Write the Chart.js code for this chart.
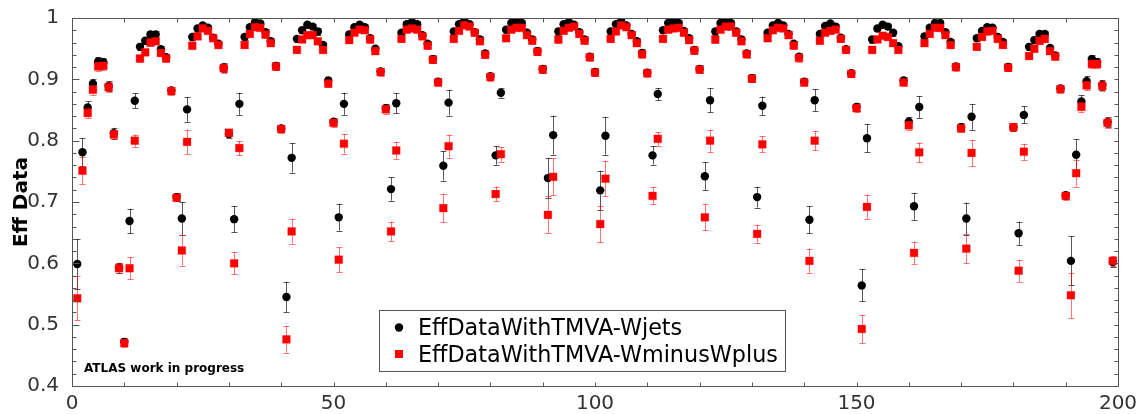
<!DOCTYPE html>
<html>
<head>
<meta charset="utf-8">
<script src="https://cdn.jsdelivr.net/npm/chart.js@4.4.0/dist/chart.umd.min.js"></script>
<style>
  html, body { margin: 0; padding: 0; background: #fff; }
  #wrap { width: 1143px; height: 414px; }
</style>
</head>
<body>
<div id="wrap"><canvas id="eff-chart" width="1143" height="414"></canvas></div>
<script>
// bin index of the first point (points sit at x = 1 ... 199)
const firstBin = 1;

// EffDataWithTMVA-Wjets (black circles)
const effWjets = [
  0.599, 0.781, 0.854, 0.893, 0.929, 0.928, 0.889, 0.812, 0.593, 0.472,
  0.669, 0.865, 0.953, 0.963, 0.973, 0.973, 0.949, 0.936, 0.882, 0.708,
  0.673, 0.851, 0.969, 0.983, 0.988, 0.984, 0.968, 0.958, 0.919, 0.811,
  0.672, 0.860, 0.969, 0.985, 0.993, 0.991, 0.977, 0.962, 0.922, 0.820,
  0.545, 0.772, 0.966, 0.980, 0.989, 0.986, 0.978, 0.956, 0.898, 0.831,
  0.675, 0.860, 0.973, 0.985, 0.989, 0.985, 0.967, 0.950, 0.913, 0.853,
  0.721, 0.861, 0.976, 0.990, 0.993, 0.990, 0.972, 0.958, 0.933, 0.896,
  0.759, 0.862, 0.978, 0.990, 0.996, 0.990, 0.977, 0.965, 0.942, 0.905,
  0.776, 0.878, 0.981, 0.992, 0.995, 0.992, 0.976, 0.965, 0.946, 0.917,
  0.739, 0.809, 0.978, 0.990, 0.993, 0.989, 0.977, 0.965, 0.937, 0.912,
  0.719, 0.808, 0.978, 0.990, 0.995, 0.988, 0.974, 0.962, 0.943, 0.911,
  0.776, 0.876, 0.980, 0.992, 0.995, 0.992, 0.979, 0.967, 0.948, 0.917,
  0.742, 0.866, 0.978, 0.992, 0.996, 0.992, 0.978, 0.965, 0.942, 0.902,
  0.708, 0.857, 0.976, 0.988, 0.992, 0.988, 0.974, 0.958, 0.937, 0.896,
  0.671, 0.866, 0.974, 0.987, 0.991, 0.986, 0.968, 0.949, 0.910, 0.855,
  0.564, 0.804, 0.965, 0.983, 0.989, 0.986, 0.976, 0.954, 0.898, 0.831,
  0.693, 0.855, 0.970, 0.984, 0.992, 0.992, 0.977, 0.961, 0.921, 0.822,
  0.673, 0.839, 0.967, 0.979, 0.985, 0.984, 0.969, 0.961, 0.920, 0.822,
  0.649, 0.842, 0.953, 0.964, 0.974, 0.974, 0.951, 0.939, 0.885, 0.711,
  0.604, 0.777, 0.864, 0.897, 0.933, 0.928, 0.891, 0.830, 0.602
];
const errWjets = [
  0.041, 0.023, 0.010, 0.008, 0.007, 0.007, 0.008, 0.009, 0.008, 0.006,
  0.020, 0.012, 0.005, 0.005, 0.005, 0.005, 0.005, 0.005, 0.006, 0.006,
  0.027, 0.020, 0.005, 0.004, 0.004, 0.004, 0.005, 0.005, 0.007, 0.006,
  0.021, 0.018, 0.005, 0.004, 0.004, 0.004, 0.005, 0.005, 0.006, 0.006,
  0.025, 0.024, 0.005, 0.004, 0.004, 0.004, 0.005, 0.005, 0.006, 0.006,
  0.022, 0.018, 0.005, 0.004, 0.004, 0.004, 0.005, 0.005, 0.006, 0.007,
  0.019, 0.016, 0.005, 0.004, 0.004, 0.004, 0.005, 0.005, 0.006, 0.006,
  0.024, 0.021, 0.005, 0.004, 0.004, 0.004, 0.005, 0.005, 0.006, 0.006,
  0.015, 0.008, 0.005, 0.004, 0.004, 0.004, 0.005, 0.005, 0.006, 0.006,
  0.033, 0.032, 0.005, 0.004, 0.004, 0.004, 0.005, 0.005, 0.006, 0.006,
  0.032, 0.031, 0.005, 0.004, 0.004, 0.004, 0.005, 0.005, 0.006, 0.006,
  0.015, 0.010, 0.005, 0.004, 0.004, 0.004, 0.005, 0.005, 0.006, 0.006,
  0.023, 0.020, 0.005, 0.004, 0.004, 0.004, 0.005, 0.005, 0.006, 0.006,
  0.017, 0.015, 0.005, 0.004, 0.004, 0.004, 0.005, 0.005, 0.006, 0.006,
  0.022, 0.018, 0.005, 0.004, 0.004, 0.004, 0.005, 0.005, 0.006, 0.007,
  0.026, 0.023, 0.005, 0.004, 0.004, 0.004, 0.005, 0.005, 0.006, 0.007,
  0.022, 0.018, 0.005, 0.004, 0.004, 0.004, 0.005, 0.005, 0.006, 0.006,
  0.026, 0.021, 0.005, 0.004, 0.004, 0.004, 0.005, 0.005, 0.006, 0.006,
  0.019, 0.014, 0.005, 0.005, 0.005, 0.005, 0.005, 0.005, 0.006, 0.006,
  0.040, 0.025, 0.010, 0.008, 0.007, 0.007, 0.008, 0.008, 0.008
];

// EffDataWithTMVA-WminusWplus (red squares)
const effWminusWplus = [
  0.543, 0.751, 0.845, 0.883, 0.921, 0.922, 0.887, 0.810, 0.592, 0.470,
  0.592, 0.800, 0.934, 0.944, 0.960, 0.962, 0.943, 0.934, 0.881, 0.707,
  0.621, 0.798, 0.955, 0.970, 0.983, 0.979, 0.967, 0.956, 0.918, 0.813,
  0.600, 0.788, 0.956, 0.974, 0.985, 0.984, 0.973, 0.959, 0.921, 0.819,
  0.476, 0.652, 0.948, 0.965, 0.972, 0.972, 0.962, 0.948, 0.893, 0.829,
  0.606, 0.795, 0.964, 0.976, 0.981, 0.980, 0.965, 0.946, 0.912, 0.851,
  0.652, 0.784, 0.966, 0.981, 0.983, 0.981, 0.970, 0.955, 0.932, 0.895,
  0.690, 0.791, 0.966, 0.979, 0.988, 0.986, 0.976, 0.962, 0.940, 0.904,
  0.713, 0.778, 0.967, 0.981, 0.984, 0.984, 0.972, 0.963, 0.945, 0.916,
  0.679, 0.741, 0.965, 0.979, 0.984, 0.986, 0.974, 0.963, 0.936, 0.911,
  0.664, 0.738, 0.966, 0.978, 0.988, 0.985, 0.972, 0.959, 0.941, 0.910,
  0.710, 0.803, 0.966, 0.981, 0.983, 0.984, 0.976, 0.964, 0.947, 0.916,
  0.675, 0.800, 0.965, 0.981, 0.986, 0.986, 0.976, 0.962, 0.941, 0.901,
  0.648, 0.794, 0.967, 0.980, 0.984, 0.983, 0.972, 0.955, 0.935, 0.895,
  0.604, 0.800, 0.963, 0.976, 0.979, 0.981, 0.966, 0.948, 0.909, 0.853,
  0.493, 0.692, 0.948, 0.965, 0.971, 0.969, 0.959, 0.948, 0.895, 0.825,
  0.617, 0.781, 0.959, 0.974, 0.984, 0.984, 0.972, 0.956, 0.920, 0.820,
  0.624, 0.780, 0.953, 0.969, 0.978, 0.979, 0.966, 0.956, 0.919, 0.822,
  0.588, 0.782, 0.938, 0.950, 0.963, 0.966, 0.946, 0.937, 0.884, 0.710,
  0.548, 0.747, 0.855, 0.890, 0.925, 0.925, 0.889, 0.829, 0.604
];
const errWminusWplus = [
  0.036, 0.022, 0.008, 0.008, 0.007, 0.007, 0.008, 0.008, 0.008, 0.006,
  0.018, 0.010, 0.005, 0.005, 0.005, 0.005, 0.005, 0.005, 0.006, 0.006,
  0.025, 0.020, 0.005, 0.004, 0.004, 0.004, 0.005, 0.005, 0.007, 0.006,
  0.018, 0.012, 0.005, 0.004, 0.004, 0.004, 0.005, 0.005, 0.006, 0.006,
  0.022, 0.020, 0.005, 0.004, 0.004, 0.004, 0.005, 0.005, 0.006, 0.006,
  0.020, 0.016, 0.005, 0.004, 0.004, 0.004, 0.005, 0.005, 0.006, 0.007,
  0.016, 0.014, 0.005, 0.004, 0.004, 0.004, 0.005, 0.005, 0.006, 0.006,
  0.023, 0.019, 0.005, 0.004, 0.004, 0.004, 0.005, 0.005, 0.006, 0.006,
  0.012, 0.012, 0.005, 0.004, 0.004, 0.004, 0.005, 0.005, 0.006, 0.006,
  0.030, 0.030, 0.005, 0.004, 0.004, 0.004, 0.005, 0.005, 0.006, 0.006,
  0.030, 0.029, 0.005, 0.004, 0.004, 0.004, 0.005, 0.005, 0.006, 0.006,
  0.014, 0.011, 0.005, 0.004, 0.004, 0.004, 0.005, 0.005, 0.006, 0.006,
  0.021, 0.018, 0.005, 0.004, 0.004, 0.004, 0.005, 0.005, 0.006, 0.006,
  0.015, 0.013, 0.005, 0.004, 0.004, 0.004, 0.005, 0.005, 0.006, 0.006,
  0.020, 0.016, 0.005, 0.004, 0.004, 0.004, 0.005, 0.005, 0.006, 0.007,
  0.023, 0.020, 0.005, 0.004, 0.004, 0.004, 0.005, 0.005, 0.006, 0.007,
  0.018, 0.016, 0.005, 0.004, 0.004, 0.004, 0.005, 0.005, 0.006, 0.006,
  0.024, 0.021, 0.005, 0.004, 0.004, 0.004, 0.005, 0.005, 0.006, 0.006,
  0.018, 0.013, 0.005, 0.005, 0.005, 0.005, 0.005, 0.005, 0.006, 0.006,
  0.037, 0.022, 0.008, 0.008, 0.007, 0.007, 0.008, 0.008, 0.008
];

const seriesNames = ['EffDataWithTMVA-Wjets', 'EffDataWithTMVA-WminusWplus'];
const xTickLabels = [0, 50, 100, 150, 200];
const yTickLabels = [0.4, 0.5, 0.6, 0.7, 0.8, 0.9, 1];

Chart.defaults.font.family = '"DejaVu Sans", sans-serif';

const toPoints = (vals) => vals.map((y, i) => ({ x: i + firstBin, y: y }));

// error bars, drawn just before each dataset's markers (like ROOT)
const errorBars = {
  id: 'errorBars',
  beforeDatasetDraw(chart, args) {
    const ds = chart.data.datasets[args.index];
    const errs = ds.errors;
    if (!errs) return;
    const xs = chart.scales.x, ys = chart.scales.y;
    const area = chart.chartArea;
    const ctx = chart.ctx;
    ctx.save();
    ctx.beginPath();
    ctx.rect(area.left, area.top, area.right - area.left, area.bottom - area.top);
    ctx.clip();
    ctx.strokeStyle = ds.errColor;
    ctx.lineWidth = 1;
    ds.data.forEach((p, i) => {
      const px = Math.round(xs.getPixelForValue(p.x)) + 0.5;
      const y1 = ys.getPixelForValue(p.y + errs[i]);
      const y2 = ys.getPixelForValue(p.y - errs[i]);
      ctx.beginPath();
      ctx.moveTo(px, y1); ctx.lineTo(px, y2);
      ctx.moveTo(px - 3, Math.round(y1) + 0.5); ctx.lineTo(px + 3, Math.round(y1) + 0.5);
      ctx.moveTo(px - 3, Math.round(y2) + 0.5); ctx.lineTo(px + 3, Math.round(y2) + 0.5);
      ctx.stroke();
    });
    ctx.restore();
  }
};

// ROOT style frame with inward ticks, legend box and label
const frameDeco = {
  id: 'frameDeco',
  afterDraw(chart) {
    const ctx = chart.ctx;
    const a = chart.chartArea;
    const xs = chart.scales.x, ys = chart.scales.y;
    ctx.save();
    ctx.strokeStyle = '#555';
    ctx.lineWidth = 1;
    const L = Math.round(a.left) + 0.5, R = Math.round(a.right) + 0.5;
    const T = Math.round(a.top) + 0.5, B = Math.round(a.bottom) + 0.5;
    ctx.strokeRect(L, T, R - L, B - T);
    ctx.beginPath();
    for (let v = 10; v < 200; v += 10) {
      const px = Math.round(xs.getPixelForValue(v)) + 0.5;
      ctx.moveTo(px, B); ctx.lineTo(px, B - 4);
      ctx.moveTo(px, T); ctx.lineTo(px, T + 4);
    }
    for (let k = 21; k < 50; k++) {
      const v = k / 50;
      const py = Math.round(ys.getPixelForValue(v)) + 0.5;
      const major = k % 5 === 0;
      ctx.moveTo(L, py); ctx.lineTo(L + (major ? 7 : 4), py);
      ctx.moveTo(R, py); ctx.lineTo(R - 4, py);
    }
    ctx.stroke();

    // legend
    ctx.fillStyle = '#fff';
    ctx.fillRect(379.5, 310.5, 406, 61);
    ctx.strokeRect(379.5, 310.5, 406, 61);
    ctx.fillStyle = '#000';
    ctx.beginPath();
    ctx.arc(399, 327.5, 4.2, 0, Math.PI * 2);
    ctx.fill();
    ctx.fillStyle = '#ff0000';
    ctx.fillRect(395, 350, 8, 8);
    ctx.fillStyle = '#000';
    ctx.font = '22.3px "DejaVu Sans"';
    ctx.textBaseline = 'alphabetic';
    ctx.fillText(seriesNames[0], 418, 335);
    ctx.fillText(seriesNames[1], 418, 362);

    ctx.font = 'bold 12px "DejaVu Sans"';
    ctx.fillText('ATLAS work in progress', 84, 371.5);
    ctx.restore();
  }
};

new Chart(document.getElementById('eff-chart'), {
  type: 'scatter',
  data: {
    datasets: [
      {
        label: seriesNames[0],
        data: toPoints(effWjets),
        errors: errWjets,
        errColor: 'rgba(0,0,0,0.65)',
        pointStyle: 'circle',
        pointRadius: 4.2,
        pointBackgroundColor: '#000',
        pointBorderWidth: 0,
        showLine: false,
        order: 2
      },
      {
        label: seriesNames[1],
        data: toPoints(effWminusWplus),
        errors: errWminusWplus,
        errColor: 'rgba(255,0,0,0.55)',
        pointStyle: 'rect',
        pointRadius: 5.5,
        pointBackgroundColor: '#ff0000',
        pointBorderColor: 'rgba(255,0,0,0.3)',
        pointBorderWidth: 1,
        showLine: false,
        order: 1
      }
    ]
  },
  options: {
    responsive: false,
    animation: false,
    devicePixelRatio: 1,
    layout: { padding: { top: 18, right: 25, left: 0, bottom: 0 } },
    plugins: {
      legend: { display: false },
      tooltip: { enabled: false }
    },
    scales: {
      x: {
        type: 'linear',
        min: 0,
        max: 200,
        afterBuildTicks: (scale) => { scale.ticks = xTickLabels.map(v => ({ value: v })); },
        ticks: {
          color: '#333',
          font: { size: 20 },
          padding: -2,
          maxRotation: 0,
          autoSkip: false
        },
        grid: { display: false },
        border: { display: false },
        afterFit: (scale) => { scale.height = 28; }
      },
      y: {
        min: 0.4,
        max: 1,
        afterBuildTicks: (scale) => { scale.ticks = yTickLabels.map(v => ({ value: v })); },
        ticks: {
          color: '#333',
          font: { size: 20 },
          padding: 5,
          callback: (v) => String(Number(v.toFixed(1)))
        },
        grid: { display: false },
        border: { display: false },
        title: {
          display: true,
          text: 'Eff Data',
          color: '#000',
          font: { size: 20, weight: 'bold' },
          padding: { top: 10, bottom: 0 }
        },
        afterFit: (scale) => { scale.width = 72; }
      }
    }
  },
  plugins: [errorBars, frameDeco]
});
</script>
</body>
</html>
